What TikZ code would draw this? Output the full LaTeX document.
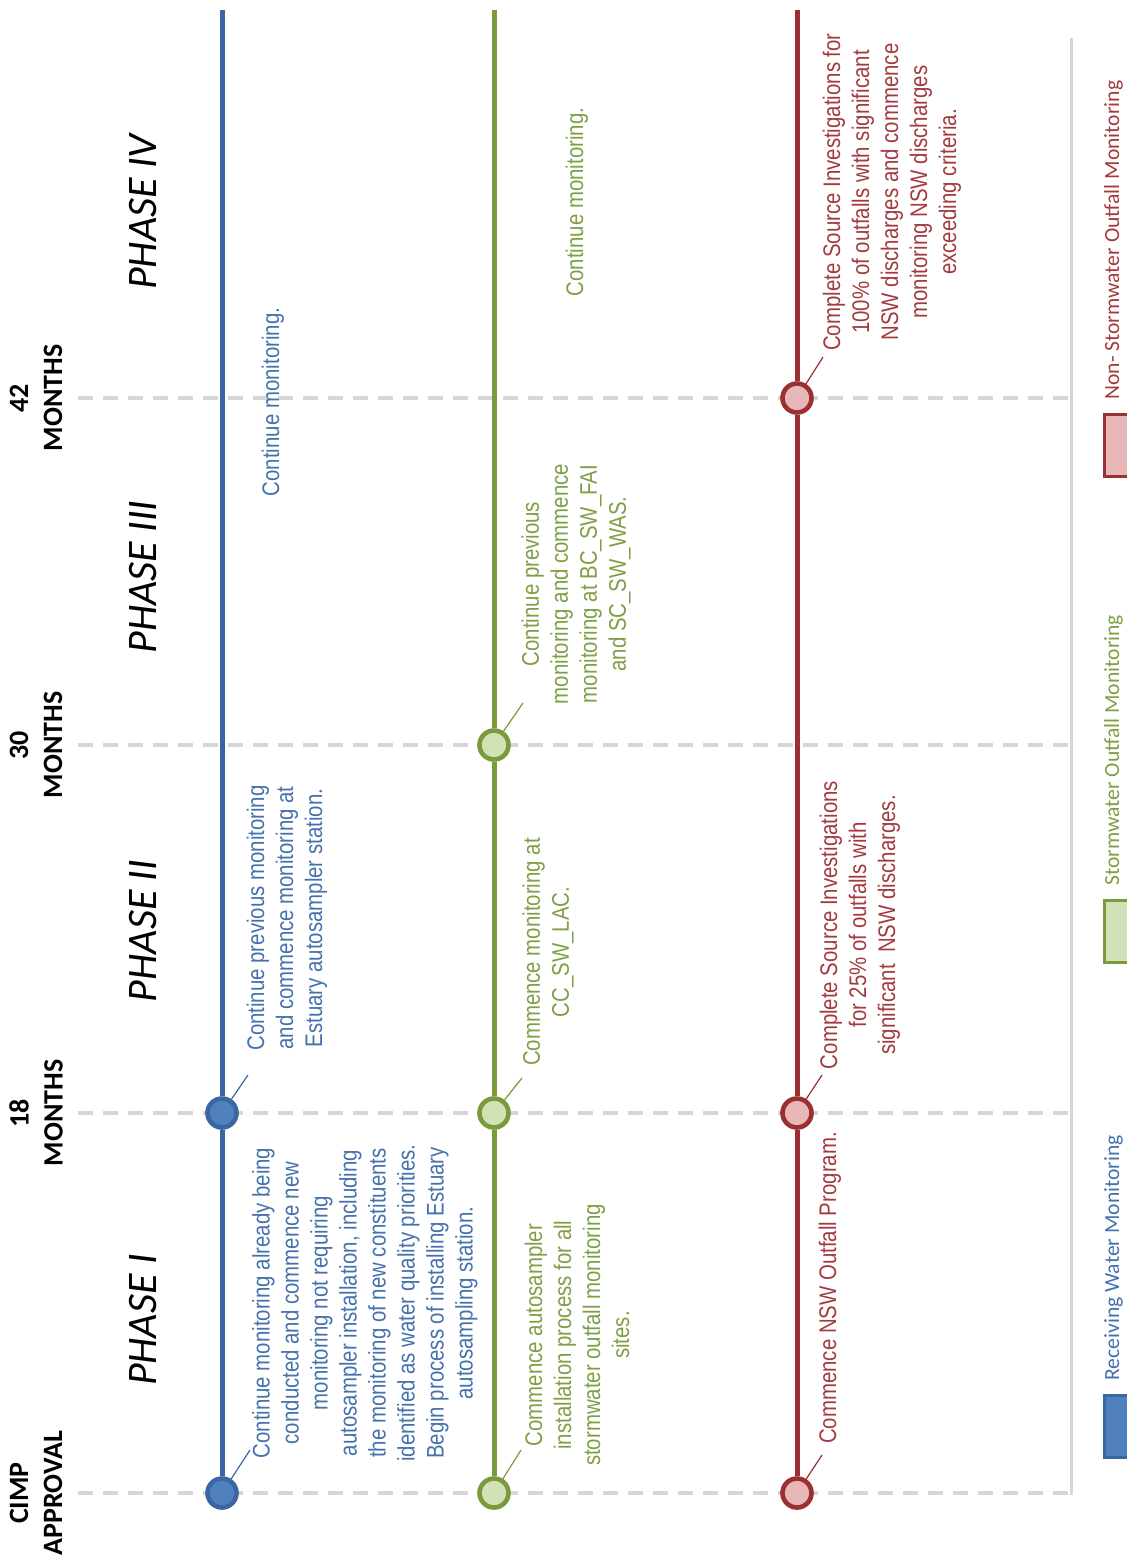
\documentclass[tikz,border=0pt]{standalone}
\usepackage{fontspec}
\setmainfont{Liberation Sans}
\newfontfamily\narrowfont[FakeStretch=0.85]{Liberation Sans}
\newfontfamily\calibri{Carlito}
\definecolor{rwLine}{HTML}{3B66A1}
\definecolor{rwFill}{HTML}{4F81BD}
\definecolor{rwText}{HTML}{4571AC}
\definecolor{swLine}{HTML}{7A9A3C}
\definecolor{swFill}{HTML}{D3E1B6}
\definecolor{swText}{HTML}{7F9F45}
\definecolor{nswLine}{HTML}{9C2F32}
\definecolor{nswFill}{HTML}{E8B8B8}
\definecolor{nswText}{HTML}{A33A3F}
\definecolor{gridGrey}{HTML}{D6D6D6}
\begin{document}
\begin{tikzpicture}[x=0.5pt,y=-0.5pt,
    gridline/.style={draw=gridGrey, line width=1.8pt, dash pattern=on 7.5pt off 5pt},
    timeline/.style={line width=2.5pt},
    milestone/.style={circle, line width=2.3pt, minimum size=14.5pt, inner sep=0pt},
    leader/.style={line width=0.6pt},
    note/.style={rotate=90, align=center, inner sep=0pt,
        font=\narrowfont\fontsize{12}{14.5}\selectfont},
    phase/.style={rotate=90, font=\calibri\itshape\fontsize{21}{25}\selectfont},
    when/.style={rotate=90, align=center, font=\calibri\bfseries\fontsize{14}{17}\selectfont},
    keylabel/.style={rotate=90, anchor=base west, inner sep=0pt,
        font=\calibri\fontsize{10.8}{13}\selectfont},
    keybox/.style={line width=1.5pt}]
  \useasboundingbox (0,0) rectangle (1126,1564);

  \foreach \y in {398,745,1113,1493}
    \draw[gridline] (78,\y) -- (1071,\y);
  \draw[draw=gridGrey, line width=1.5pt] (1071,38) -- (1071,1495);

  \node[when] (cimp) at (36,1493) {CIMP\\APPROVAL};
  \node[when] (m18)  at (36,1113) {18\\MONTHS};
  \node[when] (m30)  at (36,745)  {30\\MONTHS};
  \node[when] (m42)  at (36,398)  {42\\MONTHS};

  \node[phase] (p1) at (143,1320) {PHASE I};
  \node[phase] (p2) at (143,931)  {PHASE II};
  \node[phase] (p3) at (143,577)  {PHASE III};
  \node[phase] (p4) at (143,212)  {PHASE IV};

  \coordinate (btop) at (222,10);
  \coordinate (gtop) at (494,10);
  \coordinate (rtop) at (797,10);
  \node[milestone, draw=rwLine, fill=rwFill]   (b0) at (222,1493) {};
  \node[milestone, draw=rwLine, fill=rwFill]   (b1) at (222,1113) {};
  \node[milestone, draw=swLine, fill=swFill]   (g0) at (494,1493) {};
  \node[milestone, draw=swLine, fill=swFill]   (g1) at (494,1113) {};
  \node[milestone, draw=swLine, fill=swFill]   (g2) at (494,745)  {};
  \node[milestone, draw=nswLine, fill=nswFill] (r0) at (797,1493) {};
  \node[milestone, draw=nswLine, fill=nswFill] (r1) at (797,1113) {};
  \node[milestone, draw=nswLine, fill=nswFill] (r3) at (797,398)  {};

  \draw[timeline, rwLine] (btop) -- (b1) -- (b0);
  \draw[timeline, swLine] (gtop) -- (g2) -- (g1) -- (g0);
  \draw[timeline, nswLine] (rtop) -- (r3) -- (r1) -- (r0);

  \node[note, text=rwText] (b0t) at (365,1303) {Continue monitoring already being\\conducted and commence new\\monitoring not requiring\\autosampler installation, including\\the monitoring of new constituents\\identified as water quality priorities.\\Begin process of installing Estuary\\autosampling station.};
  \node[note, text=rwText] (b1t) at (287,918) {Continue previous monitoring\\and commence monitoring at\\Estuary autosampler station.};
  \node[note, text=rwText] (b2t) at (273,402) {Continue monitoring.};

  \node[note, text=swText] (g0t) at (577,1335) {Commence autosampler\\installation process for all\\stormwater outfall monitoring\\sites.};
  \node[note, text=swText] (g1t) at (548,952) {Commence monitoring at\\CC\_SW\_LAC.};
  \node[note, text=swText] (g2t) at (576,584) {Continue previous\\monitoring and commence\\monitoring at BC\_SW\_FAI\\and SC\_SW\_WAS.};
  \node[note, text=swText] (g3t) at (577,202) {Continue monitoring.};

  \node[note, text=nswText] (r0t) at (830,1288) {Commence NSW Outfall Program.};
  \node[note, text=nswText] (r1t) at (860,925) {Complete Source Investigations\\for 25\% of outfalls with\\significant\ \ NSW discharges.};
  \node[note, text=nswText] (r3t) at (892,192) {Complete Source Investigations for\\100\% of outfalls with significant\\NSW discharges and commence\\monitoring NSW discharges\\exceeding criteria.};

  \coordinate (b0l) at (250,1450);
  \coordinate (b1l) at (248,1075);
  \coordinate (g0l) at (521,1450);
  \coordinate (g1l) at (522,1078);
  \coordinate (g2l) at (523,703);
  \coordinate (r0l) at (822,1455);
  \coordinate (r1l) at (822,1075);
  \coordinate (r3l) at (823,357);
  \draw[leader, rwLine] (b0) -- (b0l);
  \draw[leader, rwLine] (b1) -- (b1l);
  \draw[leader, swLine] (g0) -- (g0l);
  \draw[leader, swLine] (g1) -- (g1l);
  \draw[leader, swLine] (g2) -- (g2l);
  \draw[leader, nswLine] (r0) -- (r0l);
  \draw[leader, nswLine] (r1) -- (r1l);
  \draw[leader, nswLine] (r3) -- (r3l);

  \draw[keybox, draw=rwLine, fill=rwFill]   (1104,1395) rectangle (1140,1457);
  \draw[keybox, draw=swLine, fill=swFill]   (1104,900)  rectangle (1140,962);
  \draw[keybox, draw=nswLine, fill=nswFill] (1104,414)  rectangle (1140,476);
  \node[keylabel, text=rwText]  (rwkey)  at (1119,1381) {Receiving Water Monitoring};
  \node[keylabel, text=swText]  (swkey)  at (1119,886)  {Stormwater Outfall Monitoring};
  \node[keylabel, text=nswText] (nswkey) at (1119,400)  {Non- Stormwater Outfall Monitoring};
\end{tikzpicture}
\end{document}
